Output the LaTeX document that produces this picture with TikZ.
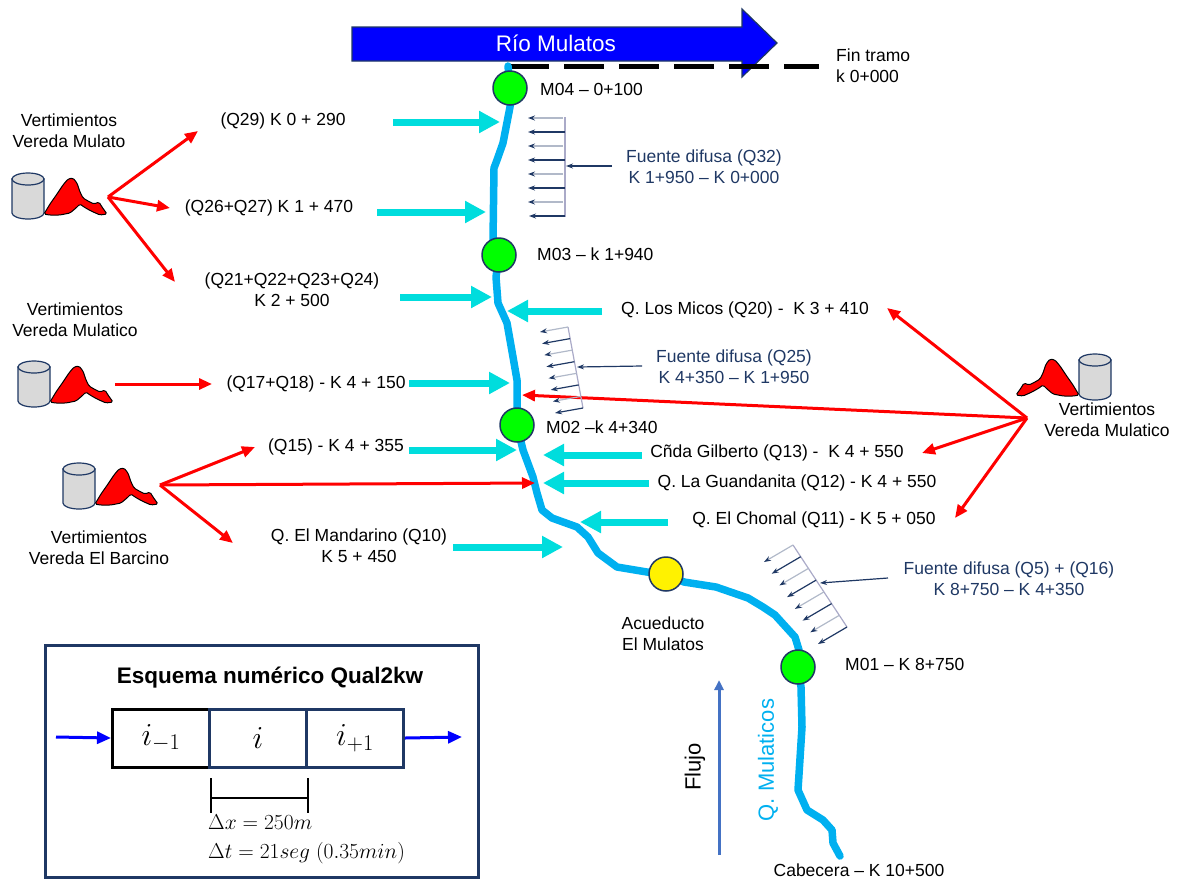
\RequirePackage{fix-cm}
\documentclass[tikz,border=0pt]{standalone}
\usepackage{amsmath}
\usepackage{fontspec}
\setmainfont{Liberation Sans}
\usetikzlibrary{arrows.meta}

\definecolor{rio}{RGB}{0,176,240}
\definecolor{cian}{RGB}{0,221,221}
\definecolor{marino}{RGB}{31,56,100}
\definecolor{gris}{RGB}{217,217,217}
\definecolor{guia}{RGB}{170,170,200}
\definecolor{flujo}{RGB}{68,114,196}

\begin{document}
\begin{tikzpicture}[x=1pt,y=-1pt,
    point/.style={circle,draw=marino,line width=1.5pt,minimum size=34pt,inner sep=0pt},
    texto/.style={font=\fontsize{17.5}{21}\selectfont,align=center,inner sep=0pt},
    difusa/.style={texto,text=marino},
    aporte/.style={cian,line width=7pt,-{Triangle[width=21pt,length=21pt]}},
    vert/.style={red,line width=3pt,-{Triangle[width=11pt,length=13pt]}},
    fina/.style={marino,line width=1.2pt,-{Stealth[length=7pt,width=5pt]}},
    tenue/.style={marino!35,line width=1.2pt,-{Stealth[length=7pt,width=5pt,color=marino]}},
    entrada/.style={blue,line width=3pt,-{Triangle[width=12pt,length=14pt]}},
    celda/.style={draw=marino,line width=3pt,minimum width=97pt,minimum height=58pt,inner sep=0pt,font=\fontsize{32}{36}\selectfont},
    vertimiento/.pic={
      \path[fill=gris,draw=marino,line width=1.2pt] (-16,-17) -- (-16,17) arc[start angle=180,end angle=0,x radius=16,y radius=6] -- (16,-17) -- cycle;
      \path[fill=gris,draw=marino,line width=1.2pt] (0,-17) ellipse[x radius=16,y radius=6];
      \path[fill=red,draw=black,line width=1pt,rounded corners=1.5pt] (16,18) -- (22,8) -- (29,-2) -- (35,-11) -- (40,-17) -- (45,-18) -- (49,-13) -- (52,-4) -- (55,2) -- (60,5) -- (66,8) -- (71,6) -- (74,11) -- (79,18) -- (72,19) -- (63,15) -- (56,11) -- (52,8) -- (48,12) -- (42,17) -- (32,19) -- (21,19) -- cycle;
    }]
  \useasboundingbox (0,0) rectangle (1177,879);

  \path[fill=blue,draw=marino,line width=1.2pt] (352,27) -- (742,27) -- (742,9) -- (777,43) -- (742,77) -- (742,61) -- (352,61) -- cycle;
  \node[texto,text=white,font=\fontsize{22.5}{27}\selectfont] (rio) at (556,43) {Río Mulatos};
  \draw[line width=5pt,dash pattern=on 40pt off 15pt] (509,66) -- (819,66);

  \draw[rio,line width=7.5pt,line join=round,line cap=round] (508,66) -- (510,88) -- (510,107) -- (503,143) -- (497,160) -- (494,168) -- (493,240) -- (499,255) -- (496,277) -- (498,303) -- (507,323) -- (513,357) -- (517,380) -- (517,410) -- (517,425) -- (523,450) -- (533,477) -- (537,493) -- (542,510) -- (552,518) -- (577,527) -- (588,537) -- (598,553) -- (617,567) -- (647,572) -- (666,574) -- (684,582) -- (716,587) -- (748,598) -- (763,607) -- (775,615) -- (795,637) -- (799,650) -- (798,667) -- (801,687) -- (802,727) -- (798,790) -- (807,810) -- (823,820) -- (832,830) -- (833,843) -- (840,856);

  \node[point,fill=green]  (m04) at (510,88)  {};
  \node[point,fill=green]  (m03) at (499,255) {};
  \node[point,fill=green]  (m02) at (517,425) {};
  \node[point,fill=yellow] (acu) at (666,574) {};
  \node[point,fill=green]  (m01) at (798,667) {};

  \node[texto,anchor=west] (tm04) at (540,89)  {M04 – 0+100};
  \node[texto,anchor=west] (tm03) at (537,254) {M03 – k 1+940};
  \node[texto,anchor=west] (tm02) at (546,427) {M02 –k 4+340};
  \node[texto,anchor=west] (tm01) at (845,664) {M01 – K 8+750};
  \node[texto]             (tacu) at (663,634) {Acueducto\\El Mulatos};
  \node[texto,align=left,anchor=west] (fin) at (836,66) {Fin tramo\\k 0+000};
  \node[texto]             (cab)  at (859,870) {Cabecera – K 10+500};

  \node[texto] (q29) at (283,121) {(Q29) K 0 + 290};
  \node[texto] (q26) at (269,208) {(Q26+Q27) K 1 + 470};
  \node[texto] (q21) at (292,290) {(Q21+Q22+Q23+Q24)\\K 2 + 500};
  \node[texto] (q17) at (316,384) {(Q17+Q18) - K 4 + 150};
  \node[texto] (q15) at (336,447) {(Q15) - K 4 + 355};
  \node[texto] (q10) at (359,546) {Q. El Mandarino (Q10)\\K 5 + 450};
  \node[texto] (q20) at (745,310) {Q. Los Micos (Q20) -\ \ K 3 + 410};
  \node[texto] (q13) at (777,453) {Cñda Gilberto (Q13) -\ \ K 4 + 550};
  \node[texto] (q12) at (797,483) {Q. La Guandanita (Q12) - K 4 + 550};
  \node[texto] (q11) at (814,520) {Q. El Chomal (Q11) - K 5 + 050};

  \node[texto] (vmulato)    at (69,131)   {Vertimientos\\Vereda Mulato};
  \node[texto] (vmulatico)  at (75,320)   {Vertimientos\\Vereda Mulatico};
  \node[texto] (vbarcino)   at (99,548)   {Vertimientos\\Vereda El Barcino};
  \node[texto] (vmulatico2) at (1107,420) {Vertimientos\\Vereda Mulatico};

  \pic at (28,196) {vertimiento};
  \pic at (34,384) {vertimiento};
  \pic at (79,486) {vertimiento};
  \pic[xscale=-1] at (1095,377) {vertimiento};

  \coordinate (o1) at (108,197);
  \coordinate (t29) at (198,131);
  \coordinate (t26) at (170,208);
  \coordinate (t21) at (175,282);
  \coordinate (o2) at (115,384);
  \coordinate (t17) at (212,384);
  \coordinate (o3) at (160,485);
  \coordinate (t15) at (255,447);
  \coordinate (t10) at (233,543);
  \coordinate (tg) at (535,483);
  \coordinate (o4) at (1027,418);
  \coordinate (t20) at (887,308);
  \coordinate (tm) at (522,395);
  \coordinate (t13) at (922,453);
  \coordinate (t11) at (955,518);
  \draw[vert] (o1) -- (t29);
  \draw[vert] (o1) -- (t26);
  \draw[vert] (o1) -- (t21);
  \draw[vert] (o2) -- (t17);
  \draw[vert] (o3) -- (t15);
  \draw[vert] (o3) -- (t10);
  \draw[vert] (o3) -- (tg);
  \draw[vert] (o4) -- (t20);
  \draw[vert] (o4) -- (tm);
  \draw[vert] (o4) -- (t13);
  \draw[vert] (o4) -- (t11);

  \coordinate (a29) at (393,122);
  \coordinate (b29) at (500,122);
  \coordinate (a26) at (377,212);
  \coordinate (b26) at (486,212);
  \coordinate (a21) at (400,297);
  \coordinate (b21) at (492,297);
  \coordinate (a17) at (409,383);
  \coordinate (b17) at (510,383);
  \coordinate (a15) at (409,450);
  \coordinate (b15) at (517,450);
  \coordinate (a10) at (453,547);
  \coordinate (b10) at (563,547);
  \coordinate (a20) at (602,311);
  \coordinate (b20) at (507,311);
  \coordinate (a13) at (642,455);
  \coordinate (b13) at (543,455);
  \coordinate (a12) at (649,483);
  \coordinate (b12) at (543,483);
  \coordinate (a11) at (668,522);
  \coordinate (b11) at (580,522);
  \draw[aporte] (a29) -- (b29);
  \draw[aporte] (a26) -- (b26);
  \draw[aporte] (a21) -- (b21);
  \draw[aporte] (a17) -- (b17);
  \draw[aporte] (a15) -- (b15);
  \draw[aporte] (a10) -- (b10);
  \draw[aporte] (a20) -- (b20);
  \draw[aporte] (a13) -- (b13);
  \draw[aporte] (a12) -- (b12);
  \draw[aporte] (a11) -- (b11);

  \node[difusa] (d32) at (704,167)  {Fuente difusa (Q32)\\K 1+950 – K 0+000};
  \node[difusa] (d25) at (734,367)  {Fuente difusa (Q25)\\K 4+350 – K 1+950};
  \node[difusa] (d5)  at (1009,579) {Fuente difusa (Q5) + (Q16)\\K 8+750 – K 4+350};

  \draw[guia,line width=1.2pt] (565,117) -- (565,217);
  \draw[tenue] (563,118) -- (528,118);
  \draw[fina]  (565,132) -- (528,132);
  \draw[tenue] (563,146) -- (528,146);
  \draw[fina]  (565,160) -- (528,160);
  \draw[tenue] (563,174) -- (528,174);
  \draw[fina]  (565,188) -- (528,188);
  \draw[tenue] (563,202) -- (528,202);
  \draw[fina]  (565,216) -- (529,216);
  \coordinate (p32) at (612,166);
  \coordinate (g32) at (566,166);
  \draw[fina] (p32) -- (g32);

  \draw[guia,line width=1.2pt] (568,327) -- (583,408);
  \draw[tenue] (568,327) -- (540,332);
  \draw[fina]  (570.1,338.6) -- (542.1,343.6);
  \draw[tenue] (572.3,350.1) -- (544.3,355.1);
  \draw[fina]  (574.4,361.7) -- (546.4,366.7);
  \draw[tenue] (576.6,373.3) -- (548.6,378.3);
  \draw[fina]  (578.7,384.9) -- (550.7,389.9);
  \draw[tenue] (580.9,396.4) -- (552.9,401.4);
  \draw[fina]  (583,408) -- (555,413);
  \coordinate (p25) at (642,366);
  \coordinate (g25) at (577,367);
  \draw[fina] (p25) -- (g25);

  \draw[guia,line width=1.2pt] (793,545) -- (847,627);
  \draw[tenue] (793,545) -- (764,562);
  \draw[fina]  (800.7,556.7) -- (771.7,573.7);
  \draw[tenue] (808.4,568.4) -- (779.4,585.4);
  \draw[fina]  (816.1,580.1) -- (787.1,597.1);
  \draw[tenue] (823.9,591.9) -- (794.9,608.9);
  \draw[fina]  (831.6,603.6) -- (802.6,620.6);
  \draw[tenue] (839.3,615.3) -- (810.3,632.3);
  \draw[fina]  (847,627) -- (818,644);
  \coordinate (p5) at (888,578);
  \coordinate (g5) at (820,583);
  \draw[fina] (p5) -- (g5);

  \coordinate (fa) at (719,855);
  \coordinate (fb) at (719,680);
  \draw[flujo,line width=3pt,-{Triangle[width=9pt,length=10pt]}] (fa) -- (fb);
  \node[texto,rotate=90,font=\fontsize{22}{26}\selectfont] (tflujo) at (695,767) {Flujo};
  \node[texto,rotate=90,text=rio,font=\fontsize{22}{26}\selectfont] (mulaticos) at (768,760) {Q. Mulaticos};

  \node[draw=marino,line width=3pt,minimum width=433pt,minimum height=232pt,inner sep=0pt] (esquema) at (261.5,761) {};
  \node[inner sep=0pt,font=\bfseries\fontsize{22.5}{27}\selectfont] (titulo) at (270,678) {Esquema numérico Qual2kw};
  \node[celda,draw=black] (c1) at (161,738) {$i_{-1}$};
  \node[celda] (c2) at (258,738) {$i$};
  \node[celda] (c3) at (355,738) {$i_{+1}$};
  \coordinate (ent) at (56,737);
  \coordinate (sal) at (462,737);
  \draw[entrada] (ent) -- (c1.west);
  \draw[entrada] (c3.east) -- (sal);
  \draw[line width=1.2pt] (211,778) -- (211,813);
  \draw[line width=1.2pt] (308,778) -- (308,813);
  \draw[line width=1.2pt] (211,798) -- (308,798);
  \node[texto,anchor=west,font=\fontsize{21.5}{25}\selectfont] (dx) at (208,822) {$\Delta x = 250m$};
  \node[texto,anchor=west,font=\fontsize{21.5}{25}\selectfont] (dt) at (208,853) {$\Delta t = 21seg\ (0.35min)$};
\end{tikzpicture}
\end{document}
